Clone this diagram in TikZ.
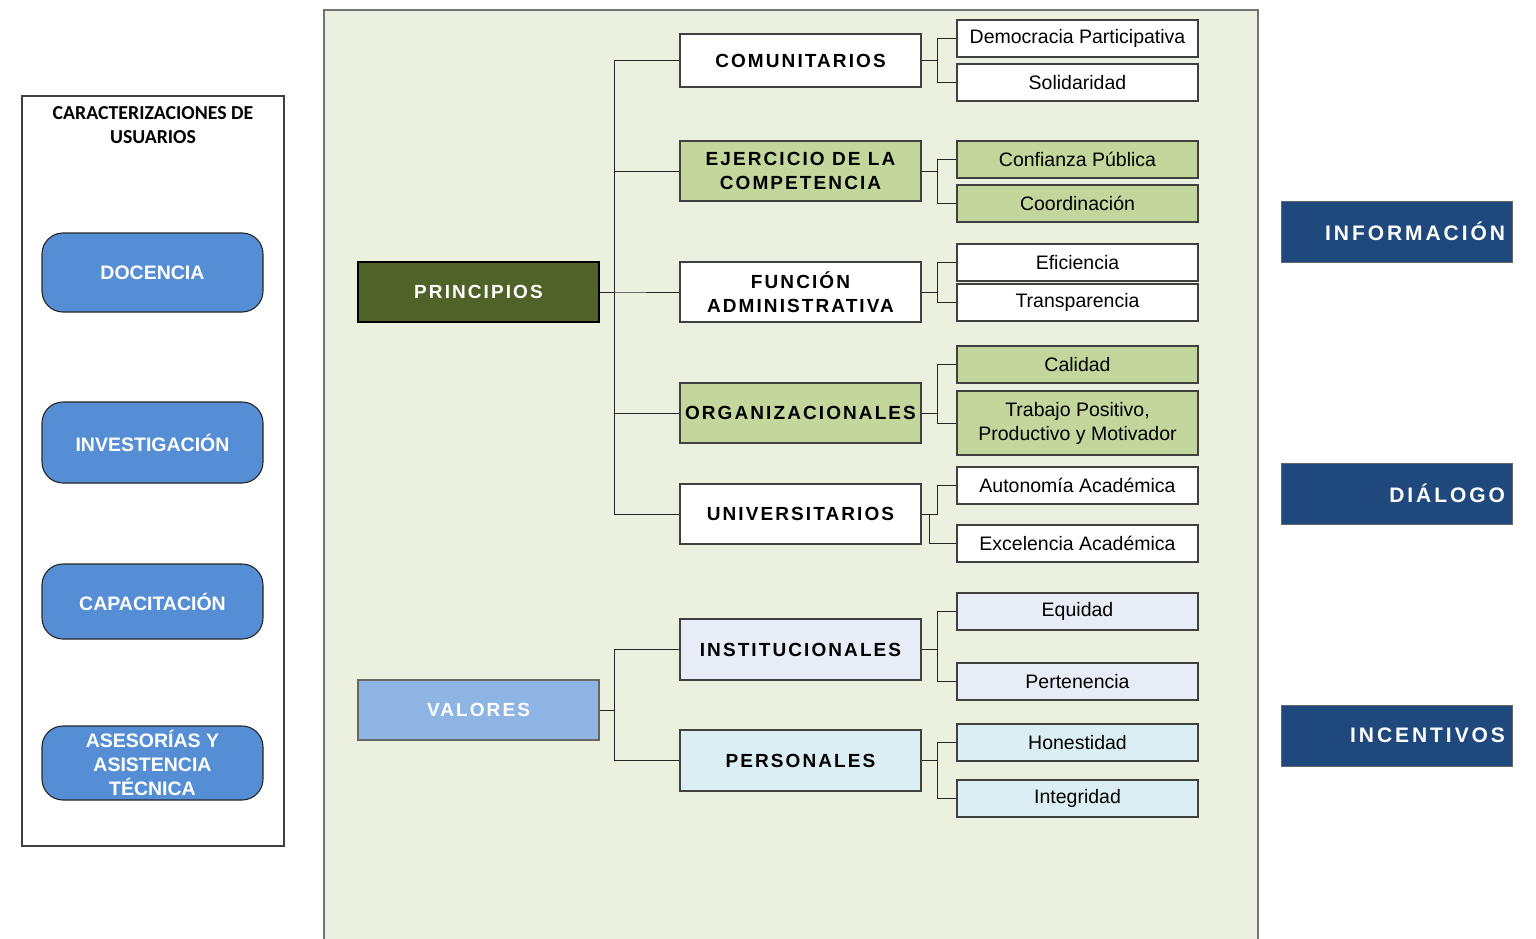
\documentclass[tikz,border=0pt]{standalone}
\usepackage{fontspec}
\setmainfont{Liberation Sans}
\newfontfamily\headfont{Carlito}
\begin{document}
\begin{tikzpicture}[x=1pt,y=-1pt,
  boxline/.style={draw=black!75, line width=1.1pt},
  conn/.style={draw=black!85, line width=1pt},
  tracked/.style={font=\fontsize{19}{24}\selectfont\bfseries\addfontfeature{LetterSpace=11}},
  midbox/.style={boxline, minimum width=241pt, minimum height=60pt, inner sep=0pt, align=center, tracked},
  leafbox/.style={boxline, minimum width=241pt, minimum height=37pt, inner sep=0pt, align=center,
    font=\fontsize{19.5}{24}\selectfont},
  rootbox/.style={boxline, minimum width=241pt, minimum height=60pt, inner sep=0pt, text=white, tracked},
  btn/.style={draw=black!85, line width=1.1pt, rounded corners=21pt, fill=btnblue, text=white,
    minimum width=221pt, inner sep=0pt, align=center, font=\fontsize{19.5}{24}\selectfont\bfseries},
  navy/.style={draw=black!60, line width=1pt, fill=navyblue, minimum width=231pt, minimum height=61pt,
    inner sep=0pt, text=white, text width=217pt, align=right,
    font=\fontsize{21}{24}\selectfont\bfseries\addfontfeature{LetterSpace=14}}
]
\definecolor{panelgreen}{HTML}{EBF1DE}
\definecolor{olive}{HTML}{4F6228}
\definecolor{lightgreen}{HTML}{C3D69B}
\definecolor{btnblue}{HTML}{558ED5}
\definecolor{valblue}{HTML}{8EB4E3}
\definecolor{lavender}{HTML}{E8ECF6}
\definecolor{paleblue}{HTML}{DBEEF4}
\definecolor{navyblue}{HTML}{1F497D}

\useasboundingbox (0,0) rectangle (1536,939);

% central panel, open at the bottom
\fill[panelgreen] (324,10) rectangle (1258,945);
\draw[draw=black!55, line width=1.3pt] (324,945) |- (1258,10) -- (1258,945);

% user characterisation column
\draw[draw=black!75, line width=1.1pt] (22,96) rectangle (284,846);
\node[align=center, font=\headfont\fontsize{19.8}{24}\selectfont\bfseries] (head) at (153,125)
  {CARACTERIZACIONES DE\\USUARIOS};
\node[btn, minimum height=79pt] (doc) at (152.5,272.5) {DOCENCIA};
\node[btn, minimum height=81pt] (inv) at (152.5,442.5) {INVESTIGACIÓN};
\node[btn, minimum height=75pt] (cap) at (152.5,601.5) {CAPACITACIÓN};
\node[btn, minimum height=74pt] (ase) at (152.5,763) {ASESORÍAS Y\\ASISTENCIA\\TÉCNICA};

% roots
\node[rootbox, fill=olive, draw=black] (prin) at (478.5,292) {PRINCIPIOS};
\node[rootbox, fill=valblue, draw=black!60] (val) at (478.5,710) {VALORES};

% second level
\node[midbox, fill=white, minimum height=53pt] (com) at (800.5,60.5) {COMUNITARIOS};
\node[midbox, fill=lightgreen] (eje) at (800.5,171) {EJERCICIO DE LA\\COMPETENCIA};
\node[midbox, fill=white] (fun) at (800.5,292) {FUNCIÓN\\ADMINISTRATIVA};
\node[midbox, fill=lightgreen] (org) at (800.5,413) {ORGANIZACIONALES};
\node[midbox, fill=white] (uni) at (800.5,514) {UNIVERSITARIOS};
\node[midbox, fill=lavender, minimum height=61pt] (ins) at (800.5,649.5) {INSTITUCIONALES};
\node[midbox, fill=paleblue, minimum height=61pt] (per) at (800.5,760.5) {PERSONALES};

% leaves
\node[leafbox, fill=white] (dem) at (1077.5,38.5) {Democracia Participativa};
\node[leafbox, fill=white] (sol) at (1077.5,82.5) {Solidaridad};
\node[leafbox, fill=lightgreen] (con) at (1077.5,159.5) {Confianza Pública};
\node[leafbox, fill=lightgreen] (coo) at (1077.5,203.5) {Coordinación};
\node[leafbox, fill=white] (efi) at (1077.5,262.5) {Eficiencia};
\node[leafbox, fill=white] (tra) at (1077.5,302.5) {Transparencia};
\node[leafbox, fill=lightgreen] (cal) at (1077.5,364.5) {Calidad};
\node[leafbox, fill=lightgreen, minimum height=64pt] (tpm) at (1077.5,423) {Trabajo Positivo,\\Productivo y Motivador};
\node[leafbox, fill=white] (aut) at (1077.5,485.5) {Autonomía Académica};
\node[leafbox, fill=white] (exc) at (1077.5,543.5) {Excelencia Académica};
\node[leafbox, fill=lavender] (equ) at (1077.5,611.5) {Equidad};
\node[leafbox, fill=lavender] (pert) at (1077.5,681.5) {Pertenencia};
\node[leafbox, fill=paleblue] (hon) at (1077.5,742.5) {Honestidad};
\node[leafbox, fill=paleblue] (integ) at (1077.5,798.5) {Integridad};

% root connectors
\foreach \m in {com,eje,fun,org,uni}
  \draw[conn] (prin.east) -- ++(15,0) |- (\m.west);
\foreach \m in {ins,per}
  \draw[conn] (val.east) -- ++(15,0) |- (\m.west);

% second-level connectors
\foreach \m/\a/\b in {com/dem/sol, eje/con/coo, fun/efi/tra, org/cal/tpm, ins/equ/pert, per/hon/integ}{
  \draw[conn] (\m.east) -- ++(16,0) |- (\a.west);
  \draw[conn] (\m.east) -- ++(16,0) |- (\b.west);
}
\draw[conn] (uni.east) -- ++(16,0) |- (aut.west);
\draw[conn] (uni.east) -- ++(8,0) |- (exc.west);

% outcome boxes
\node[navy] (info) at (1396.5,231.5) {INFORMACIÓN};
\node[navy] (dia) at (1396.5,493.5) {DIÁLOGO};
\node[navy] (ince) at (1396.5,735.5) {INCENTIVOS};
\end{tikzpicture}
\end{document}
